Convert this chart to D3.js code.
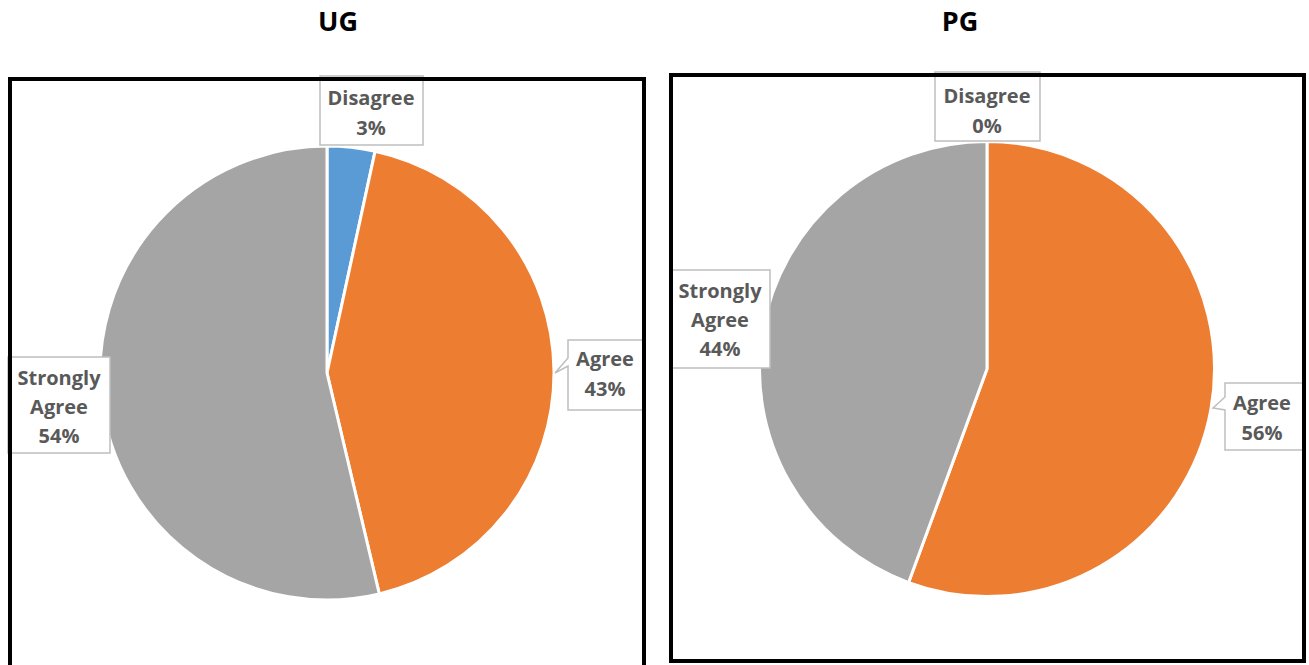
<!DOCTYPE html>
<html>
<head>
<meta charset="utf-8">
<script src="https://cdn.jsdelivr.net/npm/d3@7"></script>
<style>
  html, body { margin: 0; padding: 0; background: #fff; }
  svg { display: block; }
</style>
</head>
<body>
<svg id="chart" width="1309" height="665"></svg>
<script>
// ---- data (percent shares) ----
const categories = ["Disagree", "Agree", "Strongly Agree"];
const ugValues = [3.4, 42.9, 53.7];
const pgValues = [0, 55.6, 44.4];
const panelTitles = ["UG", "PG"];
const colors = ["#5b9bd5", "#ed7d31", "#a5a5a5"];

// ---- layout ----
const svg = d3.select("#chart");
const FONT = "'Open Sans', Lato, sans-serif";
const panels = [
  {
    title: panelTitles[0], values: ugValues,
    frame: {x: 10, y: 79, w: 634, h: 620}, titleX: 338,
    cx: 327, cy: 373, r: 227,
    labels: [
      {box: [320, 76, 423, 145], tx: 371, ty: 105, ptr: null},
      {box: [568, 340, 643, 410], tx: 605, ty: 366, ptr: {tip: [555, 373], a: 358, b: 366}},
      {box: [8, 357, 110, 453], tx: 59, ty: 385, ptr: null}
    ]
  },
  {
    title: panelTitles[1], values: pgValues,
    frame: {x: 671, y: 75, w: 633, h: 586}, titleX: 960,
    cx: 987, cy: 369, r: 227.5,
    labels: [
      {box: [935, 72, 1040, 141], tx: 987, ty: 103, ptr: null},
      {box: [1225, 383, 1303, 450], tx: 1262, ty: 410, ptr: {tip: [1213, 408], a: 397, b: 410}},
      {box: [672, 270, 770, 368], tx: 720, ty: 298, ptr: null}
    ]
  }
];

const pie = d3.pie().sort(null).value(d => d);
const fmt = v => Math.round(v) + "%";

panels.forEach(p => {
  const total = d3.sum(p.values);
  const arcs = pie(p.values);
  const arc = d3.arc().innerRadius(0).outerRadius(p.r);

  // title
  svg.append("text")
    .attr("x", p.titleX).attr("y", 31)
    .attr("text-anchor", "middle")
    .attr("font-family", FONT)
    .attr("font-weight", "bold")
    .attr("font-size", 27)
    .attr("fill", "#000")
    .text(p.title);

  const g = svg.append("g").attr("transform", `translate(${p.cx},${p.cy})`);
  g.selectAll("path.slice")
    .data(arcs)
    .join("path")
    .attr("class", "slice")
    .attr("d", arc)
    .attr("fill", (d, i) => colors[i])
    .attr("stroke", "#fff")
    .attr("stroke-width", 3)
    .attr("stroke-linejoin", "round");

  // labels
  arcs.forEach((d, i) => {
    const L = p.labels[i];
    const [x0, y0, x1, y1] = L.box;
    let path;
    if (L.ptr) {
      const t = L.ptr;
      path = `M${x0},${y0} L${x1},${y0} L${x1},${y1} L${x0},${y1} L${x0},${t.b} L${t.tip[0]},${t.tip[1]} L${x0},${t.a} Z`;
    } else {
      path = `M${x0},${y0} L${x1},${y0} L${x1},${y1} L${x0},${y1} Z`;
    }
    svg.append("path")
      .attr("d", path)
      .attr("fill", "#fff")
      .attr("stroke", "#bfbfbf")
      .attr("stroke-width", 1.5);
    const words = categories[i].split(" ");
    const lines = [...words, fmt(d.data / total * 100)];
    const spacing = lines.length === 3 ? 29 : 30;
    lines.forEach((ln, k) => {
      svg.append("text")
        .attr("x", L.tx).attr("y", L.ty + k * spacing)
        .attr("text-anchor", "middle")
        .attr("font-family", FONT)
        .attr("font-weight", "bold")
        .attr("font-size", 20)
        .attr("fill", "#595959")
        .text(ln);
    });
  });

  // frame
  svg.append("rect")
    .attr("x", p.frame.x).attr("y", p.frame.y)
    .attr("width", p.frame.w).attr("height", p.frame.h)
    .attr("fill", "none")
    .attr("stroke", "#000")
    .attr("stroke-width", 4);
});
</script>
</body>
</html>
